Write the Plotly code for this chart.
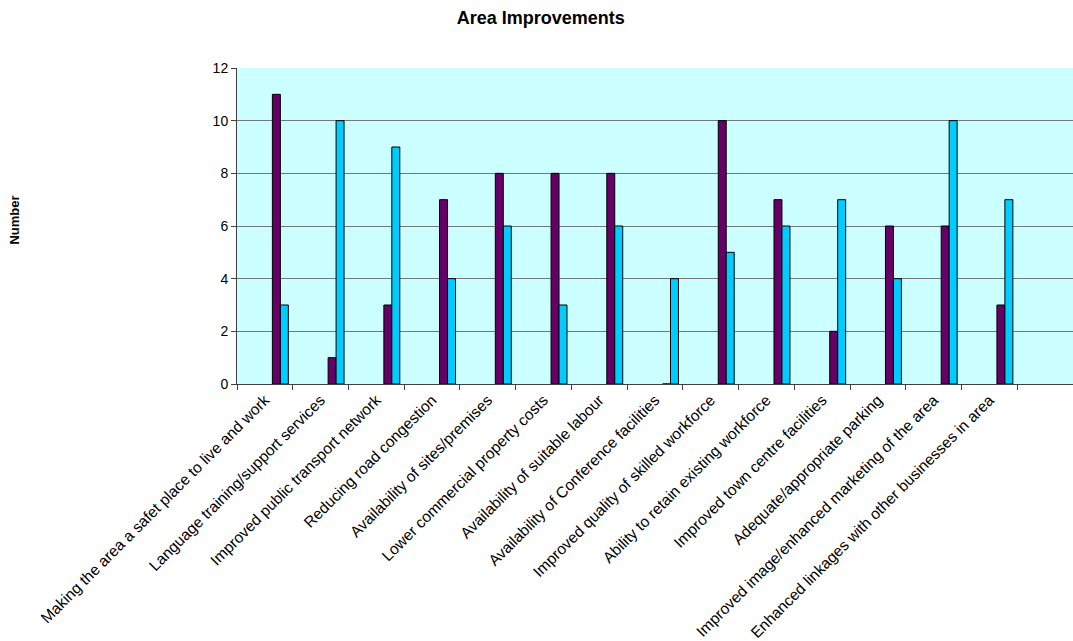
import plotly.graph_objects as go

categories = [
    "Making the area a safet place to live and work",
    "Language training/support services",
    "Improved public transport network",
    "Reducing road congestion",
    "Availability of sites/premises",
    "Lower commercial property costs",
    "Availability of suitable labour",
    "Availability of Conference facilities",
    "Improved quality of skilled workforce",
    "Ability to retain existing workforce",
    "Improved town centre facilities",
    "Adequate/appropriate parking",
    "Improved image/enhanced marketing of the area",
    "Enhanced linkages with other businesses in area",
    " ",
]
series_a = [11, 1, 3, 7, 8, 8, 8, 0, 10, 7, 2, 6, 6, 3, None]
series_b = [3, 10, 9, 4, 6, 3, 6, 4, 5, 6, 7, 4, 10, 7, None]
y_ticks = [0, 2, 4, 6, 8, 10, 12]

FONT = "Liberation Sans, Arial, sans-serif"
bar_w = 0.143

fig = go.Figure()
fig.add_trace(go.Bar(
    x=categories, y=series_a, width=bar_w, offset=0.135,
    marker=dict(color="#660066", line=dict(color="#000000", width=1)),
    showlegend=False,
))
fig.add_trace(go.Bar(
    x=categories, y=series_b, width=bar_w, offset=0.135 + bar_w,
    marker=dict(color="#00CCFF", line=dict(color="#000000", width=1)),
    showlegend=False,
))

fig.update_layout(
    width=1073, height=641,
    margin=dict(l=237, r=0, t=68, b=257),
    paper_bgcolor="white",
    plot_bgcolor="#CCFFFF",
    font=dict(family=FONT, size=14, color="#000000"),
    barmode="overlay",
    title=dict(text="<b>Area Improvements</b>", x=0.504, xanchor="center",
               y=0.973, yanchor="middle", font=dict(size=18, family=FONT)),
)
fig.update_xaxes(
    type="category", range=[-0.5, 14.5], tickangle=-45,
    tickson="boundaries", ticks="outside", ticklen=5, tickcolor="#404040",
    showline=True, linecolor="#404040", linewidth=1,
    showgrid=False, tickfont=dict(size=15.5, family=FONT),
)
fig.update_yaxes(
    range=[0, 12], tickvals=y_ticks, ticks="outside", ticklen=5,
    tickcolor="#404040", showline=True, linecolor="#404040", linewidth=1,
    showgrid=True, gridcolor="#707878", gridwidth=1, zeroline=False,
    tickfont=dict(size=14, family=FONT),
)
fig.add_annotation(
    text="<b>Number</b>", textangle=-90, xref="paper", yref="paper",
    x=-0.277, y=0.52, showarrow=False, font=dict(size=13, family=FONT),
)

fig.write_html("out.html")
